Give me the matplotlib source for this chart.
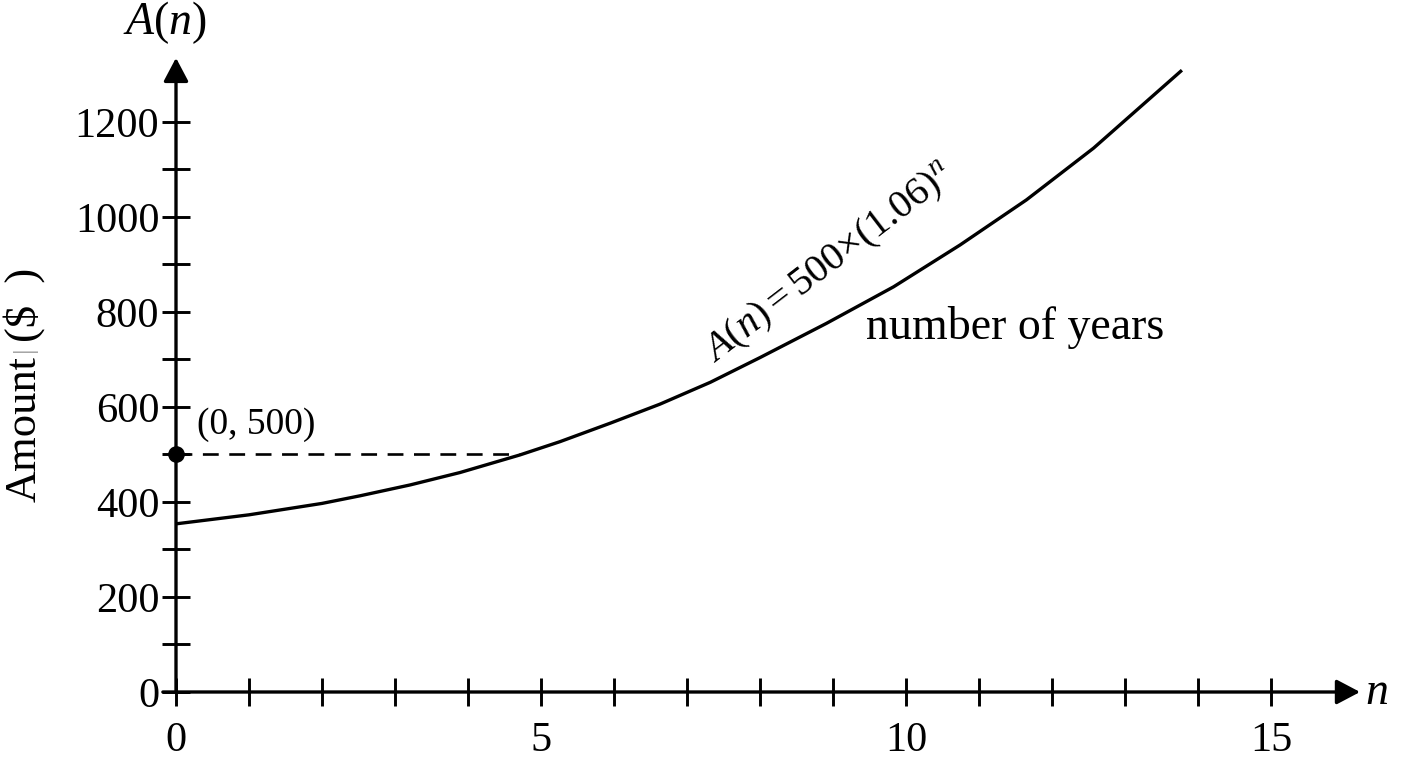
import numpy as np
import matplotlib
matplotlib.use("Agg")
import matplotlib.pyplot as plt

plt.rcParams['font.family'] = ['Liberation Serif', 'DejaVu Serif']
plt.rcParams['mathtext.fontset'] = 'custom'
plt.rcParams['mathtext.rm'] = 'Liberation Serif'
plt.rcParams['mathtext.it'] = 'Liberation Serif:italic'

# values
years = [0, 1.0, 2.0, 2.52, 3.21, 3.89, 4.71, 5.26, 5.95, 6.63, 7.32, 8.0,
         8.91, 9.83, 10.74, 11.65, 12.57, 13.78]
amount = [354, 373, 397, 413, 436, 462, 499, 527, 566, 606, 652, 704,
          776, 853, 941, 1036, 1145, 1309]

start_point = (0, 500)
dash_end = 4.71

x_ticks_major = [0, 5, 10, 15]
y_ticks_major = [0, 200, 400, 600, 800, 1000, 1200]

fig = plt.figure(figsize=(14.08, 7.68), dpi=100)
ax = fig.add_axes([0, 0, 1, 1])
ax.set_xlim(-2.411, 16.877)
ax.set_ylim(-160, 1456.8)

# axes through the origin, drawn as arrows
for side in ['top', 'right', 'left', 'bottom']:
    ax.spines[side].set_visible(False)
ax.spines['left'].set_position(('data', 0))
ax.spines['bottom'].set_position(('data', 0))
arrow = dict(arrowstyle='-|>,head_length=0.72,head_width=0.38', lw=2.4,
             color='black', mutation_scale=20, shrinkA=0, shrinkB=0)
ax.annotate('', xy=(16.22, 0), xytext=(-0.18, 0), arrowprops=arrow)
ax.annotate('', xy=(0, 1335), xytext=(0, 0), arrowprops=arrow)

ax.xaxis.set_major_locator(plt.FixedLocator(x_ticks_major))
ax.xaxis.set_minor_locator(plt.FixedLocator(range(0, 16)))
ax.yaxis.set_major_locator(plt.FixedLocator(y_ticks_major))
ax.yaxis.set_minor_locator(plt.FixedLocator(range(0, 1200, 100)))
ax.tick_params(which='both', direction='inout', length=20, width=2.1, color='black')
ax.tick_params(axis='x', which='major', labelsize=30.5, pad=11)
ax.tick_params(axis='y', which='major', labelsize=30.5, pad=2)

# curve and the marked point
ax.plot(years, amount, color='black', lw=2.4, solid_capstyle='butt')
ax.plot([start_point[0], dash_end], [start_point[1], start_point[1]],
        color='black', lw=1.9, linestyle=(0, (6, 4)))
ax.plot(*start_point, 'o', color='black', markersize=11, zorder=5, clip_on=False)

ax.text(1.10, 562, '(0, 500)', fontsize=27, ha='center', va='center')
ax.text(8.95, 902, r'$A(n) = 500{\times}(1.06)^{n}$', fontsize=29,
        rotation=37.5, rotation_mode='anchor', ha='center', va='center')
ax.text(11.49, 768, 'number of years', fontsize=33, ha='center', va='center')

ax.text(-0.15, 1410, r'$A(n)$', fontsize=33, ha='center', va='center')
ax.text(16.45, -2, r'$n$', fontsize=33, ha='center', va='center')

# y label with a faint separator bar
lab = ax.text(-2.08, 400, 'Amount', fontsize=32, rotation=90, ha='center', va='bottom')
bar = ax.annotate('|', xy=(-2.08, 1.0), xycoords=('data', lab), xytext=(0, 3),
                  textcoords='offset points', fontsize=20, rotation=90,
                  ha='center', va='bottom', color='#999999')
ax.annotate('(\\$\u2002)', xy=(-2.08, 1.0), xycoords=('data', bar), xytext=(0, 3),
            textcoords='offset points', fontsize=32, rotation=90,
            ha='center', va='bottom')

fig.savefig('out.png', dpi=100)
